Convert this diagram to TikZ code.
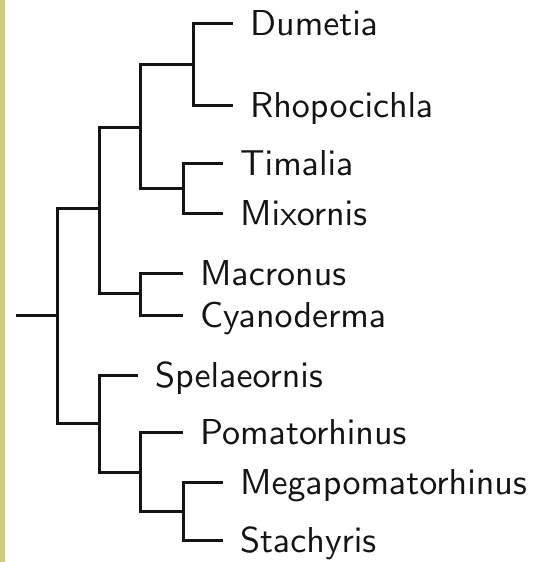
\documentclass[tikz,border=0pt]{standalone}
\definecolor{stripcol}{RGB}{206,205,118}
\definecolor{treecol}{RGB}{20,20,20}
\font\taxonfont=cmss10 at 36pt
\tikzset{
  leaf/.style={anchor=west, inner xsep=17pt, inner ysep=0pt, text height=25pt, text depth=0pt, font=\taxonfont, text=treecol},
  branch/.style={draw=treecol, line width=3pt}
}
\begin{document}
\begin{tikzpicture}[x=1pt, y=-1pt]
\useasboundingbox (0,0) rectangle (548,562);
\fill[white] (0,0) rectangle (548,562);
\fill[stripcol] (0,0) rectangle (5,562);
% inner nodes of the tree
\coordinate (stem) at (16,315);
\coordinate (root) at (57,315);
\coordinate (a) at (99,208);
\coordinate (b) at (140,127);
\coordinate (c) at (140,293);
\coordinate (d) at (193,64);
\coordinate (e) at (183,188);
\coordinate (f) at (99,423);
\coordinate (g) at (140,472);
\coordinate (h) at (183,511);
% taxa
\node[leaf] (dumetia) at (233,23) {Dumetia};
\node[leaf] (rhopocichla) at (233,105) {Rhopocichla};
\node[leaf] (timalia) at (223,163) {Timalia};
\node[leaf] (mixornis) at (223,213) {Mixornis};
\node[leaf] (macronus) at (183,273) {Macronus};
\node[leaf] (cyanoderma) at (183,315) {Cyanoderma};
\node[leaf] (spelaeornis) at (138,375) {Spelaeornis};
\node[leaf] (pomatorhinus) at (183,432) {Pomatorhinus};
\node[leaf] (megapomatorhinus) at (223,482) {Megapomatorhinus};
\node[leaf] (stachyris) at (223,540) {Stachyris};
% branches
\draw[branch] (stem) -- (root);
\draw[branch] (root) |- (a);
\draw[branch] (root) |- (f);
\draw[branch] (a) |- (b);
\draw[branch] (a) |- (c);
\draw[branch] (b) |- (d);
\draw[branch] (b) |- (e);
\draw[branch] (d) |- (dumetia.west);
\draw[branch] (d) |- (rhopocichla.west);
\draw[branch] (e) |- (timalia.west);
\draw[branch] (e) |- (mixornis.west);
\draw[branch] (c) |- (macronus.west);
\draw[branch] (c) |- (cyanoderma.west);
\draw[branch] (f) |- (spelaeornis.west);
\draw[branch] (f) |- (g);
\draw[branch] (g) |- (pomatorhinus.west);
\draw[branch] (g) |- (h);
\draw[branch] (h) |- (megapomatorhinus.west);
\draw[branch] (h) |- (stachyris.west);
\end{tikzpicture}
\end{document}
